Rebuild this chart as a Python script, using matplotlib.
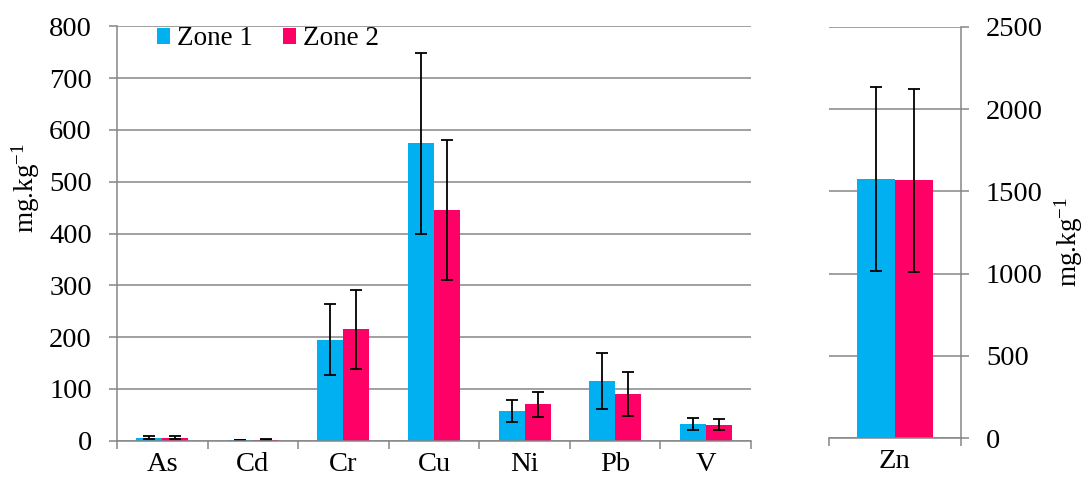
import matplotlib
matplotlib.use('Agg')
import matplotlib.pyplot as plt
import numpy as np

# metal concentrations (mg/kg), mean and standard deviation per zone
elements = ['As', 'Cd', 'Cr', 'Cu', 'Ni', 'Pb', 'V']
zone1 = [6, 1, 195, 574, 57, 115, 32]
zone1_err = [3.5, 0.5, 69, 174, 21, 54, 11]
zone2 = [5.5, 2, 215, 446, 70, 90, 31]
zone2_err = [3, 1.5, 76, 135, 25, 42, 10]

zn_label = ['Zn']
zn_zone1 = [1575]
zn_zone1_err = [556]
zn_zone2 = [1568]
zn_zone2_err = [556]

c1 = '#00B0F0'
c2 = '#FF0066'
grey = '#868686'
fs = 20.5

plt.rcParams['font.family'] = ['Liberation Serif', 'DejaVu Serif']
plt.rcParams['mathtext.fontset'] = 'custom'
plt.rcParams['mathtext.rm'] = 'Liberation Serif'
plt.rcParams['mathtext.it'] = 'Liberation Serif:italic'
plt.rcParams['font.size'] = fs

fig = plt.figure(figsize=(10.88, 4.8), dpi=100)
ax = fig.add_axes([117 / 1088, 1 - 440.7 / 480, 634 / 1088, 414.3 / 480])
ax2 = fig.add_axes([829 / 1088, 1 - 438.3 / 480, 132 / 1088, 411.6 / 480])

w = 0.287
err_kw = dict(ecolor='black', elinewidth=1.3, capsize=4.5, capthick=1.3)


def style(a, side):
    for s in a.spines.values():
        s.set_visible(False)
    a.spines[side].set_visible(True)
    a.spines['bottom'].set_visible(True)
    a.spines[side].set_color(grey)
    a.spines['bottom'].set_color(grey)
    a.spines[side].set_linewidth(1.1)
    a.spines['bottom'].set_linewidth(1.1)
    a.yaxis.grid(True, color=grey, linewidth=1.1)
    a.set_axisbelow(True)
    a.tick_params(axis='y', which='major', length=6, width=1.1, color=grey, pad=12, labelsize=fs)
    a.tick_params(axis='x', which='major', length=6, width=1.1, color=grey, labelbottom=False)
    a.tick_params(axis='x', which='minor', length=0, pad=8, labelsize=fs)


# left panel
x = np.arange(len(elements))
ax.bar(x - w / 2, zone1, w, yerr=zone1_err, color=c1, label='Zone 1', error_kw=err_kw, zorder=2)
ax.bar(x + w / 2, zone2, w, yerr=zone2_err, color=c2, label='Zone 2', error_kw=err_kw, zorder=2)
ax.set_xlim(-0.5, len(elements) - 0.5)
ax.set_ylim(0, 800)
ax.set_yticks(np.arange(0, 801, 100))
ax.set_xticks(np.arange(len(elements) + 1) - 0.5)
ax.set_xticks(x, minor=True)
ax.set_xticklabels(elements, minor=True)
style(ax, 'left')
ax.set_ylabel(r'mg.kg$^{-1}$', fontsize=19.5)
ax.yaxis.set_label_coords(-0.118, 0.61)
ax.legend(loc='upper left', bbox_to_anchor=(0.063, 1.0), ncol=2, frameon=False,
          handlelength=0.5, handleheight=0.5, handletextpad=0.25, columnspacing=1.1,
          borderaxespad=0, borderpad=0, fontsize=19.5)

# right panel (Zn)
xz = np.arange(len(zn_label))
ax2.bar(xz - w / 2, zn_zone1, w, yerr=zn_zone1_err, color=c1, error_kw=err_kw, zorder=2)
ax2.bar(xz + w / 2, zn_zone2, w, yerr=zn_zone2_err, color=c2, error_kw=err_kw, zorder=2)
ax2.set_xlim(-0.5, 0.5)
ax2.set_ylim(0, 2500)
ax2.set_yticks(np.arange(0, 2501, 500))
ax2.set_xticks([-0.5, 0.5])
ax2.set_xticks(xz, minor=True)
ax2.set_xticklabels(zn_label, minor=True)
ax2.yaxis.tick_right()
style(ax2, 'right')
ax2.yaxis.set_label_position('right')
ax2.set_ylabel(r'mg.kg$^{-1}$', fontsize=19.5)
ax2.yaxis.set_label_coords(1.69, 0.477)

fig.savefig('out.png', dpi=100)
